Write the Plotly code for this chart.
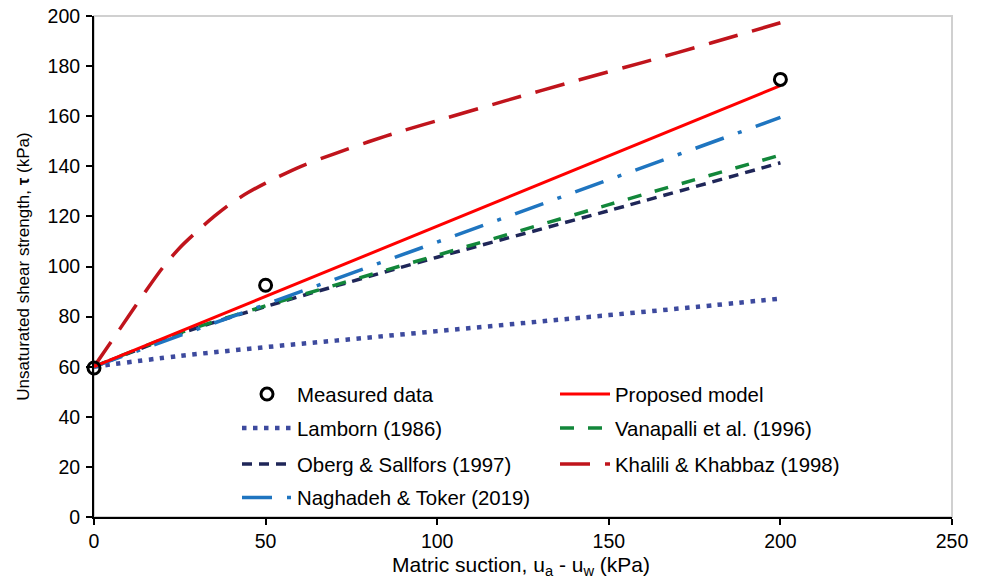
import plotly.graph_objects as go

# ---- data ----
measured_x = [0, 50, 200]
measured_y = [59.5, 92.5, 174.7]

proposed_x = [0, 200]
proposed_y = [60, 172.2]

lamborn_x = [0, 25, 50, 75, 100, 125, 150, 175, 200]
lamborn_y = [60, 64.3, 67.8, 71.0, 74.2, 77.4, 80.6, 83.8, 87.2]

vanapalli_x = [0, 10, 25, 50, 75, 100, 150, 200]
vanapalli_y = [60, 65.5, 73.5, 84.3, 94.5, 104.5, 124.7, 144.5]

oberg_x = [0, 10, 25, 50, 75, 100, 150, 200]
oberg_y = [60, 65.3, 73.2, 84.0, 94.0, 103.7, 122.3, 141.4]

khalili_x = [0, 5, 10, 15, 20, 25, 30, 35, 40, 45, 50, 60, 70, 80, 90, 100, 120, 140, 160, 180, 200]
khalili_y = [60, 70, 80, 90, 99.5, 107.5, 114, 120, 125.3, 129.6, 133.3, 139.8, 145, 149.8, 154.2, 158.2,
             166.2, 174, 181.5, 189.3, 197.3]

naghadeh_x = [0, 200]
naghadeh_y = [60, 159.5]

x_ticks = [0, 50, 100, 150, 200, 250]
y_ticks = [0, 20, 40, 60, 80, 100, 120, 140, 160, 180, 200]

x_title = "Matric suction, u<sub>a</sub> - u<sub>w</sub> (kPa)"
y_title = "Unsaturated shear strength, <b>τ</b> (kPa)"

FONT = "Liberation Sans, Arial, sans-serif"

fig = go.Figure()

fig.add_trace(go.Scatter(x=lamborn_x, y=lamborn_y, mode="lines", name="Lamborn (1986)",
                         line=dict(color="#3D4A9E", width=4.5, dash="4.5px,6.5px", shape="spline"),
                         legend="legend3"))
fig.add_trace(go.Scatter(x=oberg_x, y=oberg_y, mode="lines", name="Oberg & Sallfors (1997)",
                         line=dict(color="#1F2658", width=3.5, dash="10px,7px", shape="spline"),
                         legend="legend5"))
fig.add_trace(go.Scatter(x=vanapalli_x, y=vanapalli_y, mode="lines", name="Vanapalli et al. (1996)",
                         line=dict(color="#12873A", width=3.5, dash="14px,14px", shape="spline"),
                         legend="legend4"))
fig.add_trace(go.Scatter(x=naghadeh_x, y=naghadeh_y, mode="lines", name="Naghadeh & Toker (2019)",
                         line=dict(color="#1F75C0", width=3.5, dash="30px,15px,4px,15px"),
                         legend="legend7"))
fig.add_trace(go.Scatter(x=khalili_x, y=khalili_y, mode="lines", name="Khalili & Khabbaz (1998)",
                         line=dict(color="#C0141C", width=3.5, dash="30px,15px", shape="spline",
                                   smoothing=0.8),
                         legend="legend6"))
fig.add_trace(go.Scatter(x=proposed_x, y=proposed_y, mode="lines", name="Proposed model",
                         line=dict(color="#FF0000", width=3),
                         legend="legend2"))
fig.add_trace(go.Scatter(x=measured_x, y=measured_y, mode="markers", name="Measured data",
                         marker=dict(symbol="circle-open", size=12, color="black",
                                     line=dict(color="black", width=3)),
                         cliponaxis=False, legend="legend", showlegend=True))

def px_x(p):
    return (p - 94) / 858.0

def px_y(p):
    return (517 - p) / 501.0

col1 = px_x(237)
col2 = px_x(555)
rows = [px_y(394.3), px_y(428.3), px_y(464.3), px_y(497.7)]

def leg(x, y):
    return dict(x=x, y=y, xanchor="left", yanchor="middle", bgcolor="rgba(0,0,0,0)",
                font=dict(family=FONT, size=20.4, color="black"), itemwidth=50)

fig.update_layout(
    width=984, height=583,
    margin=dict(l=94, r=32, t=16, b=66),
    paper_bgcolor="white", plot_bgcolor="white",
    font=dict(family=FONT, size=19.5, color="black"),
    showlegend=True,
    legend=leg(col1, rows[0]),
    legend2=leg(col2, rows[0]),
    legend3=leg(col1, rows[1]),
    legend4=leg(col2, rows[1]),
    legend5=leg(col1, rows[2]),
    legend6=leg(col2, rows[2]),
    legend7=leg(col1, rows[3]),
    xaxis=dict(range=[0, 250], tickvals=x_ticks, ticktext=[str(v) for v in x_ticks],
               showgrid=False, zeroline=False, showline=True, linecolor="black", linewidth=2,
               ticks="outside", ticklen=6, tickwidth=2, tickcolor="black", automargin=False,
               tickfont=dict(family=FONT, size=19.5, color="black")),
    yaxis=dict(range=[0, 200], tickvals=y_ticks, ticktext=[str(v) for v in y_ticks],
               showgrid=False, zeroline=False, showline=True, linecolor="black", linewidth=2,
               ticks="outside", ticklen=6, tickwidth=2, tickcolor="black", automargin=False,
               ticklabelstandoff=2,
               tickfont=dict(family=FONT, size=19.5, color="black"),
               title=dict(text=y_title, standoff=14,
                          font=dict(family=FONT, size=17, color="black"))),
    shapes=[dict(type="rect", xref="paper", yref="paper", x0=0, x1=1, y0=0, y1=1,
                 line=dict(color="#D0D0D0", width=2), layer="below")],
    annotations=[
        dict(text=x_title, xref="paper", yref="paper", x=px_x(521), y=px_y(566),
             xanchor="center", yanchor="middle", showarrow=False,
             font=dict(family=FONT, size=21, color="black")),
    ],
)

fig.write_html("out.html", post_script="document.body.style.margin='0px';",
               config={"displayModeBar": False})
